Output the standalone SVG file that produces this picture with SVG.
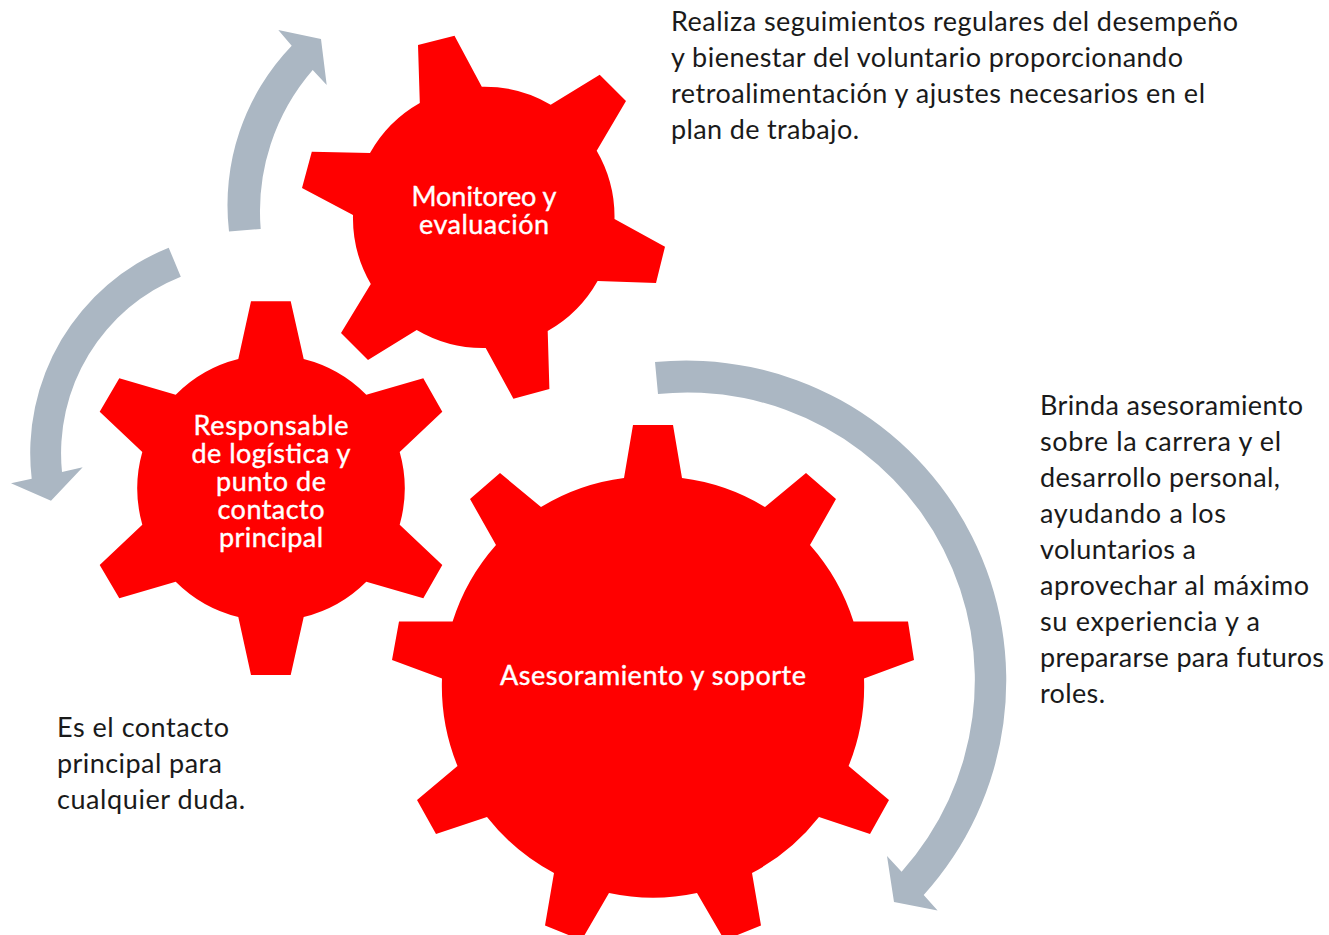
<svg xmlns="http://www.w3.org/2000/svg" width="1329" height="935" viewBox="0 0 1329 935">
<style>
.gear{fill:#ff0000}
.arrow{fill:#abb7c3}
.label{font-family:"Lato","Noto Sans","Liberation Sans",sans-serif;font-size:27px;fill:#ffffff;stroke:#ffffff;stroke-width:0.4px;text-anchor:middle}
.note{font-family:"Lato","Noto Sans","Liberation Sans",sans-serif;font-size:27px;fill:#1a1a1a}
</style>
<rect width="1329" height="935" fill="#ffffff"/>
<g id="connectors">
<path class="arrow" d="M655 362A320 320 0 0 1 923.7 895L937.6 910.5L894 902L887 856L901.6 871.7A287.5 287.5 0 0 0 658 394Z"/>
<path class="arrow" d="M229 231.5A230 230 0 0 1 291.7 45.7L278.3 30L321 39L326.7 85L312.7 70A216 216 0 0 0 260.7 229Z"/>
<path class="arrow" d="M168.7 247.7A221.5 221.5 0 0 0 31.7 478.7L11 483.3L51 500.7L82.7 467.3L62 472A190 190 0 0 1 180.8 276.7Z"/>
</g>
<g id="node-monitoreo">
<path class="gear" d="M454.5 35.7L418 45L419.8 103A131 131 0 0 0 370 153L311.8 151.7L302 188L353 215A131 131 0 0 0 370.8 284L341 333L368 360L416.7 330A131 131 0 0 0 485.7 348L513.4 398.7L549.4 389L547.7 331A131 131 0 0 0 597.6 281L656 283L665 246.7L614.5 219A131 131 0 0 0 596.7 150.7L626 101L599.7 74.7L550.7 104.7A131 131 0 0 0 481.8 86.7Z"/>
<text class="label" x="484" y="205.5" textLength="145">Monitoreo y</text>
<text class="label" x="484" y="233.5" textLength="130">evaluación</text>
</g>
<g id="node-responsable">
<path class="gear" d="M251 301.3L290.7 301.3L303.7 359A134 134 0 0 1 366.3 394.7L423.3 378.3L442.3 411.7L399.7 452A134 134 0 0 1 399.7 524.7L442.3 565L423.3 598.3L366.3 581.7A134 134 0 0 1 303.7 617L290.7 675L251 675L238.3 617A134 134 0 0 1 175.7 581.7L119.3 598.3L99.7 565L142.3 524.7A134 134 0 0 1 142.3 452L99.7 411.7L119.3 378.3L175.7 394.7A134 134 0 0 1 238.3 359Z"/>
<text class="label" x="271" y="434.5" textLength="155">Responsable</text>
<text class="label" x="271" y="462.5" textLength="159">de logística y</text>
<text class="label" x="271" y="490.5" textLength="110">punto de</text>
<text class="label" x="271" y="518.5" textLength="107">contacto</text>
<text class="label" x="271" y="546.5" textLength="104">principal</text>
</g>
<g id="node-asesoramiento">
<path class="gear" d="M633 425L673 425L682 478A211 211 0 0 1 765 507L806 473L836 499L810 545A211 211 0 0 1 853.5 621.6L908 621.6L914 660L864 678.5A211 211 0 0 1 848.6 766L889 800L870 834L819 817A211 211 0 0 1 752 873L761 925.6L730 938L722 936L697 893A211 211 0 0 1 609 893L584 936L576 938L545 925.6L554 873A211 211 0 0 1 487 817L436 834L417 800L457.5 766A211 211 0 0 1 442 678.5L392 660L399 621.6L452.6 621.6A211 211 0 0 1 496 545L470 499L500 473L541 507A211 211 0 0 1 624 478Z"/>
<text class="label" x="653" y="684.5" textLength="306">Asesoramiento y soporte</text>
</g>
<g id="note-monitoreo">
<text class="note" x="671" y="30.5" textLength="567">Realiza seguimientos regulares del desempeño</text>
<text class="note" x="671" y="66.5" textLength="512">y bienestar del voluntario proporcionando</text>
<text class="note" x="671" y="102.5" textLength="534">retroalimentación y ajustes necesarios en el</text>
<text class="note" x="671" y="138.5" textLength="188">plan de trabajo.</text>
</g>
<g id="note-asesoramiento">
<text class="note" x="1040" y="414.5" textLength="263">Brinda asesoramiento</text>
<text class="note" x="1040" y="450.5" textLength="241">sobre la carrera y el</text>
<text class="note" x="1040" y="486.5" textLength="240">desarrollo personal,</text>
<text class="note" x="1040" y="522.5" textLength="186">ayudando a los</text>
<text class="note" x="1040" y="558.5" textLength="156">voluntarios a</text>
<text class="note" x="1040" y="594.5" textLength="269">aprovechar al máximo</text>
<text class="note" x="1040" y="630.5" textLength="220">su experiencia y a</text>
<text class="note" x="1040" y="666.5" textLength="284">prepararse para futuros</text>
<text class="note" x="1040" y="702.5" textLength="65">roles.</text>
</g>
<g id="note-responsable">
<text class="note" x="57" y="736.5" textLength="172">Es el contacto</text>
<text class="note" x="57" y="772.5" textLength="165">principal para</text>
<text class="note" x="57" y="808.5" textLength="188">cualquier duda.</text>
</g>
</svg>
